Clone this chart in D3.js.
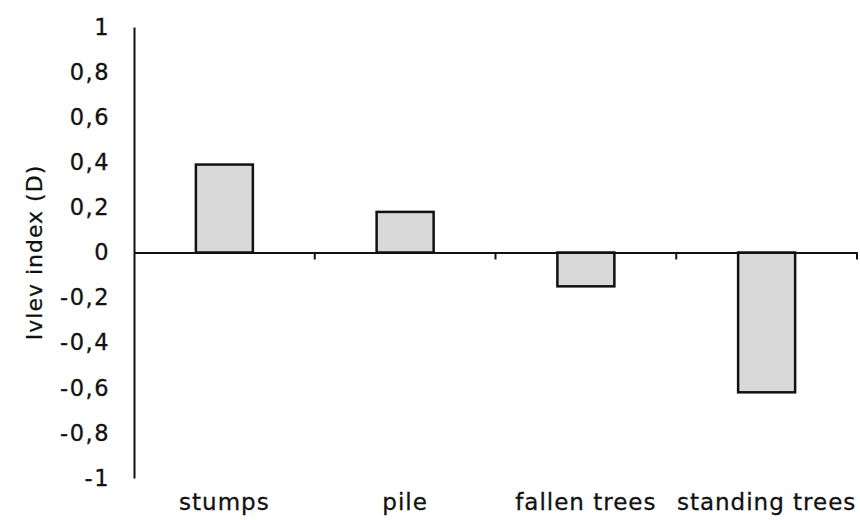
<!DOCTYPE html>
<html><head><meta charset="utf-8">
<script src="https://cdn.jsdelivr.net/npm/d3@7"></script>
<style>body{margin:0;background:#fff}svg{display:block}text{font-family:"DejaVu Sans",sans-serif;fill:#111;stroke:#111;stroke-width:0.3px}</style>
</head><body><svg id="c" width="860" height="520"></svg>
<script>
const categories = ["stumps", "pile", "fallen trees", "standing trees"];
const values = [0.39, 0.18, -0.15, -0.62];
const yTicks = [1, 0.8, 0.6, 0.4, 0.2, 0, -0.2, -0.4, -0.6, -0.8, -1];
const yTitle = "Ivlev index (D)";

(function () {
const svg = d3.select("#c");
const mLeft = 134, mRight = 857, mTop = 27, mBottom = 478;
const x = d3.scaleBand().domain(categories).range([mLeft, mRight]).paddingInner(0).paddingOuter(0);
const y = d3.scaleLinear().domain([-1, 1]).range([mBottom, mTop]);
const fmt = v => String(v).replace(".", ",");

// y axis
const yAx = svg.append("g").attr("transform", `translate(${mLeft},0)`)
  .call(d3.axisLeft(y).tickValues(yTicks).tickSize(0).tickPadding(24).tickFormat(fmt));
yAx.select(".domain").attr("stroke", "#111").attr("stroke-width", 2);
yAx.selectAll("text").style("font-size", "22.5px").style("letter-spacing", "1.5px").attr("fill", "#111");

// bars
const bw = 57;
svg.append("g").selectAll("rect").data(values).join("rect")
  .attr("x", (d, i) => x(categories[i]) + x.bandwidth() / 2 - bw / 2)
  .attr("width", bw)
  .attr("y", d => y(Math.max(0, d)))
  .attr("height", d => Math.abs(y(d) - y(0)))
  .attr("fill", "#d9d9d9").attr("stroke", "#111").attr("stroke-width", 2.5);

// x axis at zero
const xAx = svg.append("g").attr("transform", `translate(0,${y(0)})`)
  .call(d3.axisBottom(x).tickSize(0).tickFormat(""));
xAx.select(".domain").attr("stroke", "#111").attr("stroke-width", 2);
xAx.selectAll(".tick").remove();
const bounds = categories.map(c => x(c) + x.bandwidth());
svg.append("g").selectAll("line").data(bounds).join("line")
  .attr("x1", d => d).attr("x2", d => d)
  .attr("y1", y(0)).attr("y2", y(0) + 7)
  .attr("stroke", "#111").attr("stroke-width", 2);

// category labels
svg.append("g").selectAll("text").data(categories).join("text")
  .attr("x", d => x(d) + x.bandwidth() / 2)
  .attr("y", 510)
  .attr("text-anchor", "middle")
  .style("font-size", "23px")
  .style("letter-spacing", "1px")
  .text(d => d);

// y title
svg.append("text")
  .attr("transform", `translate(42,${y(0)}) rotate(-90)`)
  .attr("text-anchor", "middle")
  .style("font-size", "22px")
  .style("letter-spacing", "1px")
  .text(yTitle);
})();
</script></body></html>
